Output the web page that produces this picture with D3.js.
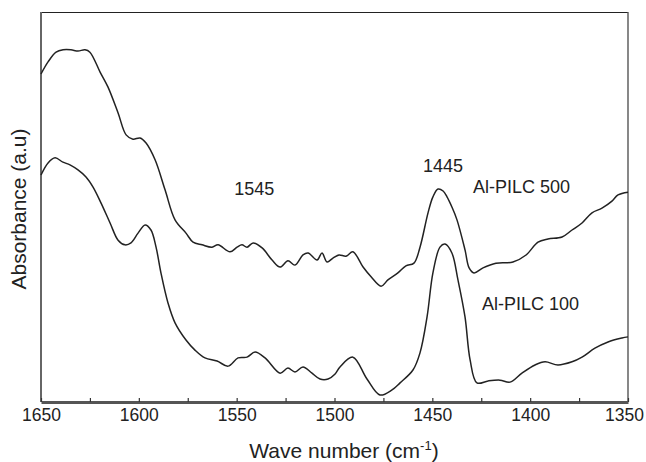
<!DOCTYPE html>
<html>
<head>
<meta charset="utf-8">
<script src="https://cdn.jsdelivr.net/npm/d3@7"></script>
<style>
  body { margin: 0; background: #fff; }
  text { font-family: "Liberation Sans", Arial, sans-serif; fill: #222; }
</style>
</head>
<body>
<div id="container"></div>
<script>
const width = 646;
const height = 462;
const marginTop = 12;
const marginRight = 18;
const marginBottom = 60;
const marginLeft = 41;

// [wave number, absorbance (arbitrary units)]
const pilc500 = [
  [1650, 84.1], [1646.4, 87.2], [1642.3, 89.7], [1638.7, 90.3], [1634.7, 90.3],
  [1631.1, 90.0], [1627.5, 90.3], [1625.0, 89.7], [1619.8, 84.6], [1615.8, 80.8],
  [1610.6, 74.1], [1606.5, 68.5], [1603.0, 67.4], [1599.4, 67.7], [1596.3, 66.4],
  [1591.7, 62.1], [1586.6, 54.4], [1581.5, 46.7], [1575.9, 43.3], [1572.3, 41.0],
  [1567.7, 40.3], [1562.6, 39.7], [1559.5, 40.3], [1553.4, 38.5], [1549.8, 39.7],
  [1547.3, 40.3], [1544.7, 39.7], [1541.6, 40.8], [1537.0, 39.5], [1531.9, 36.4],
  [1527.8, 34.6], [1523.8, 36.2], [1520.2, 35.1], [1516.1, 37.7], [1513.5, 38.2],
  [1508.9, 36.4], [1506.4, 38.2], [1503.8, 35.9], [1500.8, 36.9], [1497.7, 37.7],
  [1494.1, 37.4], [1490.6, 38.5], [1485.4, 34.6], [1481.3, 32.1], [1476.2, 29.7],
  [1472.7, 31.3], [1467.6, 33.1], [1463.5, 34.9], [1459.4, 35.6], [1456.3, 39.7],
  [1452.2, 48.5], [1449.7, 52.6], [1447.1, 54.6], [1444.5, 54.1], [1442.5, 52.6],
  [1440.0, 50.0], [1437.4, 46.7], [1433.3, 39.0], [1431.2, 34.4], [1428.7, 33.1],
  [1424.1, 34.4], [1417.5, 35.6], [1408.8, 35.9], [1402.1, 37.7], [1396.0, 41.0],
  [1390.9, 41.8], [1383.7, 42.3], [1378.6, 44.1], [1373.5, 45.9], [1368.4, 48.5],
  [1363.3, 49.7], [1358.2, 51.5], [1355.1, 53.1], [1350, 53.8]
];

const pilc100 = [
  [1650, 58.2], [1646.4, 61.3], [1642.8, 62.6], [1638.8, 61.5], [1635.2, 60.8],
  [1631.1, 59.5], [1627.0, 57.7], [1623.4, 55.1], [1619.3, 51.0], [1614.7, 45.9],
  [1610.6, 41.5], [1607.1, 40.3], [1604.0, 40.8], [1600.4, 43.3], [1596.8, 45.4],
  [1593.8, 44.1], [1591.2, 39.7], [1588.7, 33.1], [1585.1, 25.4], [1581.5, 20.3],
  [1575.9, 15.9], [1571.3, 13.3], [1566.2, 11.3], [1560.0, 10.5], [1554.4, 9.2],
  [1549.3, 11.3], [1544.7, 11.5], [1540.6, 12.8], [1535.5, 11.3], [1527.8, 7.4],
  [1523.8, 8.7], [1520.2, 7.7], [1516.1, 9.0], [1511.5, 7.4], [1507.4, 5.9],
  [1503.3, 5.9], [1499.7, 7.2], [1497.2, 9.0], [1490.6, 11.5], [1483.4, 5.9],
  [1476.8, 1.8], [1470.6, 3.1], [1466.5, 4.9], [1459.9, 8.2], [1456.3, 12.6],
  [1452.7, 21.8], [1449.7, 33.1], [1446.1, 39.7], [1443.5, 40.5], [1440.0, 38.2],
  [1436.9, 31.3], [1433.3, 21.8], [1430.7, 10.8], [1427.2, 4.9], [1421.5, 5.4],
  [1415.4, 5.6], [1410.3, 5.1], [1404.2, 7.4], [1397.5, 9.5], [1392.4, 10.3],
  [1385.8, 9.5], [1378.6, 10.3], [1373.5, 11.5], [1366.9, 13.8], [1360.2, 15.4],
  [1353.1, 16.4], [1350, 16.7]
];

const xTicks = [1650, 1625, 1600, 1575, 1550, 1525, 1500, 1475, 1450, 1425, 1400, 1375, 1350];

// label text, anchor wave number, anchor absorbance
const labels = [
  ["1545", 1541, 53.1, "middle"],
  ["1445", 1444.5, 59.0, "middle"],
  ["Al-PILC 500", 1429.2, 53.6, "start"],
  ["Al-PILC 100", 1424.6, 23.6, "start"]
];

const x = d3.scaleLinear()
  .domain([1650, 1350])
  .range([marginLeft, width - marginRight]);

const y = d3.scaleLinear()
  .domain([0, 100])
  .range([height - marginBottom, marginTop]);

const svg = d3.create("svg")
  .attr("width", width)
  .attr("height", height)
  .attr("viewBox", [0, 0, width, height]);

// frame: top, right, left
svg.append("line")
  .attr("x1", x(1650)).attr("x2", x(1350))
  .attr("y1", marginTop + 0.5).attr("y2", marginTop + 0.5)
  .attr("stroke", "#222").attr("stroke-width", 1.2);
svg.append("line")
  .attr("x1", x(1350)).attr("x2", x(1350))
  .attr("y1", marginTop).attr("y2", height - marginBottom)
  .attr("stroke", "#555").attr("stroke-width", 1.4);
svg.append("line")
  .attr("x1", x(1650)).attr("x2", x(1650))
  .attr("y1", marginTop).attr("y2", height - marginBottom)
  .attr("stroke", "#666").attr("stroke-width", 2);

// bottom axis with inward ticks
svg.append("g")
  .attr("transform", `translate(0,${height - marginBottom})`)
  .call(d3.axisBottom(x)
    .tickValues(xTicks)
    .tickFormat(d => d % 50 === 0 ? d : "")
    .tickSizeInner(-4)
    .tickSizeOuter(0)
    .tickPadding(7))
  .call(g => g.select(".domain").attr("stroke", "#555").attr("stroke-width", 3))
  .call(g => g.selectAll(".tick line").attr("stroke", "#333").attr("stroke-width", 1.2))
  .call(g => g.selectAll(".tick text")
    .attr("font-size", 17.5)
    .attr("font-family", "Liberation Sans, Arial, sans-serif")
    .attr("fill", "#222")
    .attr("dx", d => d === 1350 ? -4 : 0));

const line = d3.line()
  .x(d => x(d[0]))
  .y(d => y(d[1]))
  .curve(d3.curveCatmullRom.alpha(0.5));

svg.append("g")
  .selectAll("path")
  .data([pilc500, pilc100])
  .join("path")
    .attr("d", line)
    .attr("fill", "none")
    .attr("stroke", "#222")
    .attr("stroke-width", 1.5)
    .attr("stroke-linejoin", "round");

svg.append("g")
  .selectAll("text")
  .data(labels)
  .join("text")
    .attr("x", d => x(d[1]))
    .attr("y", d => y(d[2]))
    .attr("text-anchor", d => d[3])
    .attr("font-size", 18)
    .text(d => d[0]);

// axis titles
svg.append("text")
  .attr("transform", `translate(26,${(marginTop + height - marginBottom) / 2 + 2}) rotate(-90)`)
  .attr("text-anchor", "middle")
  .attr("font-size", 21)
  .text("Absorbance (a.u)");

const xt = svg.append("text")
  .attr("x", 344)
  .attr("y", 458)
  .attr("text-anchor", "middle")
  .attr("font-size", 21);
xt.append("tspan").text("Wave number (cm");
xt.append("tspan").attr("font-size", 13).attr("dy", -8).text("-1");
xt.append("tspan").attr("dy", 8).text(")");

document.getElementById("container").appendChild(svg.node());
</script>
</body>
</html>
